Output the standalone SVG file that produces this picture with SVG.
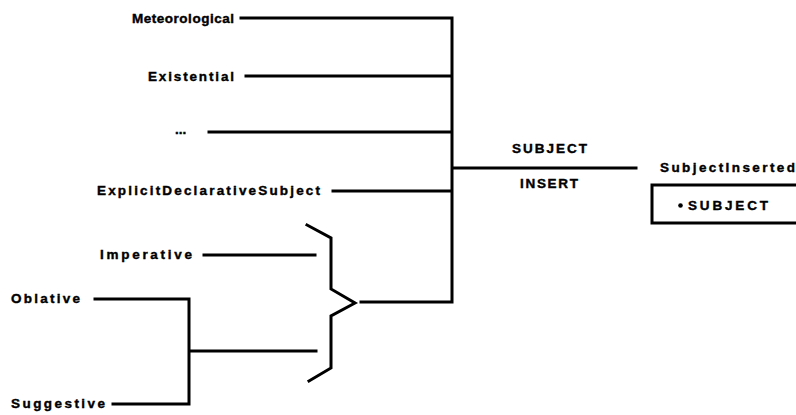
<svg xmlns="http://www.w3.org/2000/svg" width="796" height="415" viewBox="0 0 796 415">
<style>
text{font-family:"Liberation Sans",Arial,sans-serif;font-weight:bold;font-size:13.5px;fill:#000;stroke:#000;stroke-width:0.4}
.c{fill:none;stroke:#000;stroke-width:3;stroke-linecap:square;stroke-linejoin:miter}
</style>
<rect width="796" height="415" fill="#fff"/>
<g id="connectors">
<path class="c" d="M241 18H452M246 76H452M209 132H452M333 191H452M452 18V302H361"/>
<path class="c" d="M453 168H636"/>
<path class="c" d="M204 255H315M316 351H189M95 299H189V404H113"/>
<path class="c" d="M307 225L331 238V289L355 303L331 316V368L309 381" stroke-linecap="round"/>
</g>
<g id="meteorological"><text x="132" y="23" textLength="102" lengthAdjust="spacing">Meteorological</text></g>
<g id="existential"><text x="148" y="81" textLength="86" lengthAdjust="spacing">Existential</text></g>
<g id="ellipsis"><text x="175" y="134">...</text></g>
<g id="explicit"><text x="97" y="195" textLength="223" lengthAdjust="spacing">ExplicitDeclarativeSubject</text></g>
<g id="imperative"><text x="100" y="259" textLength="92" lengthAdjust="spacing">Imperative</text></g>
<g id="oblative"><text x="11" y="303" textLength="69" lengthAdjust="spacing">Oblative</text></g>
<g id="suggestive"><text x="11" y="408" textLength="94" lengthAdjust="spacing">Suggestive</text></g>
<g id="subject-insert">
<text x="512" y="153" textLength="75" lengthAdjust="spacing">SUBJECT</text>
<text x="520" y="188" textLength="58" lengthAdjust="spacing">INSERT</text>
</g>
<g id="subject-inserted">
<text x="660" y="172" textLength="135" lengthAdjust="spacing">SubjectInserted</text>
<path class="c" d="M800 185H652V223H800"/>
<circle cx="680.5" cy="205.5" r="2.3" fill="#000"/>
<text x="688" y="210" textLength="80" lengthAdjust="spacing">SUBJECT</text>
</g>
</svg>
